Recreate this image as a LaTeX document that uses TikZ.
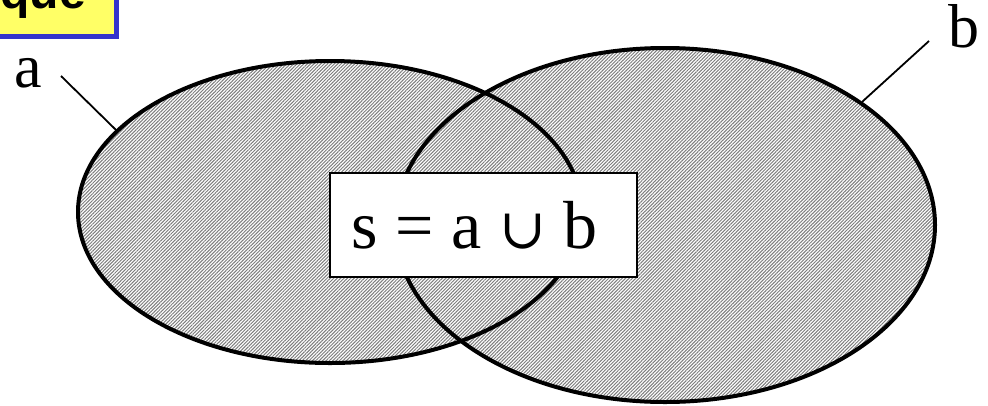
\documentclass[tikz,border=0pt]{standalone}
\usepackage{fontspec}
\setmainfont{Liberation Serif}
\newfontfamily\headfont{Liberation Sans}
\newfontfamily\symbfont{DejaVu Serif}
\usetikzlibrary{shapes.geometric,patterns.meta}
\definecolor{setgray}{RGB}{125,125,125}
\definecolor{titleyellow}{RGB}{255,255,102}
\definecolor{titleblue}{RGB}{51,51,204}
\newcommand{\fgap}{\hspace{17.5pt}}
\begin{document}
\begin{tikzpicture}[x=1pt,y=-1pt,
  vsetfill/.style={ellipse,inner sep=0pt,draw=none,fill=white,
    postaction={pattern={Lines[angle=45,distance=2.4pt,line width=1.0pt]},pattern color=setgray}},
  vsetline/.style={ellipse,inner sep=0pt,draw=black,line width=4pt},
  leader/.style={draw=black,line width=1.8pt},
  lbl/.style={inner sep=0pt,font=\fontsize{62}{70}\selectfont},
  formula/.style={draw=black,fill=white,line width=2.2pt,minimum width=307pt,minimum height=104pt,inner sep=0pt,font=\fontsize{68}{78}\selectfont},
  titlebox/.style={fill=titleyellow,draw=titleblue,line width=5pt}]
\useasboundingbox (0,0) rectangle (988,405);
% title box (cut off)
\path[titlebox] (-20,-30) rectangle (116.5,36);
\node[anchor=base east,inner sep=0pt,font=\headfont\bfseries\fontsize{48}{56}\selectfont] (title) at (86,8) {que};
% sets
\node[vsetfill,minimum width=504pt,minimum height=302pt] (ea) at (330,212) {};
\node[vsetfill,minimum width=540pt,minimum height=354pt] (eb) at (665,225) {};
\node[vsetline,minimum width=504pt,minimum height=302pt] (eaL) at (ea.center) {};
\node[vsetline,minimum width=540pt,minimum height=354pt] (ebL) at (eb.center) {};
% labels
\node[lbl,anchor=base] (la) at (28,87) {a};
\node[lbl,anchor=base] (lb) at (964,47) {b};
\coordinate (la1) at (61,76);
\coordinate (lb1) at (929,41);
\draw[leader] (la1) -- (eaL.159);
\draw[leader] (lb1) -- (ebL.32);
% formula
\node[formula] (f) at (483.5,225) {\hspace*{-18pt}s\fgap=\fgap a\fgap{\symbfont\fontsize{56}{60}\selectfont ∪}\fgap b};
\end{tikzpicture}
\end{document}
